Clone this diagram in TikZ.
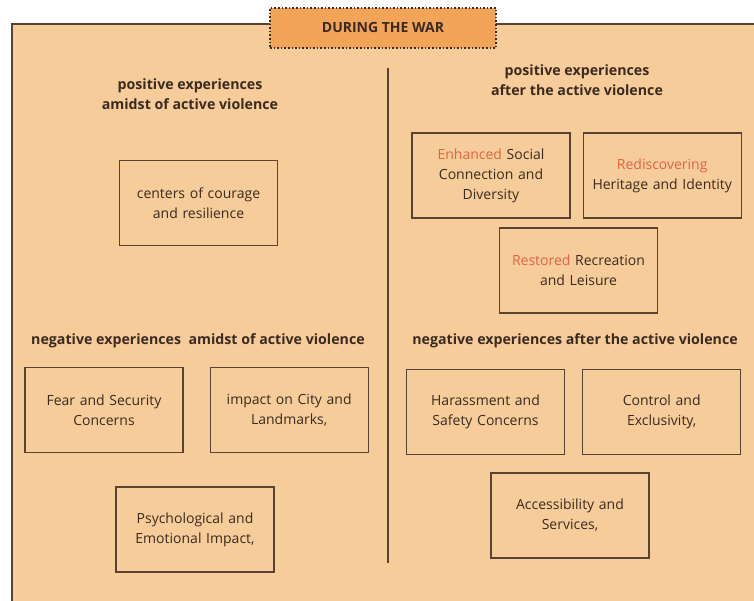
\documentclass[tikz,border=0pt]{standalone}
\usepackage{fontspec}
\setmainfont{Open Sans}
\usepackage{xcolor}
\usepackage{tikz}
\usetikzlibrary{positioning}
\definecolor{paper}{HTML}{F6CC9A}
\definecolor{titlefill}{HTML}{F2A458}
\definecolor{ink}{HTML}{3B2A20}
\definecolor{edge}{HTML}{5A4232}
\definecolor{accent}{HTML}{E0653F}
\tikzset{
    titlenode/.style = {draw=ink, dotted, line width=1.6pt, fill=titlefill, rectangle,
      minimum width=226pt, minimum height=40pt, inner sep=0pt,
      font=\fontsize{14}{16}\selectfont\bfseries, text=ink},
    headnode/.style = {draw=none, fill=none, rectangle, inner sep=0pt, align=center,
      font=\fontsize{14.2}{20.5}\selectfont\bfseries, text=ink},
    boxnode/.style = {draw=edge, line width=1.2pt, rectangle, minimum width=158pt, minimum height=85pt,
      text width=152pt, inner sep=0pt, align=center, node distance=26pt,
      font=\fontsize{14}{20}\selectfont, text=ink}
}
\newcommand{\hlword}[1]{\textcolor{accent}{#1}}

\begin{document}
\begin{tikzpicture}[x=1pt, y=-1pt]
\clip (0,0) rectangle (754,601);
\fill[white] (0,0) rectangle (754,601);
% outer frame
\draw[edge, line width=1.3pt, fill=paper] (12,24) rectangle (770,620);
\node[titlenode, name=war] at (383,28) {DURING THE WAR};
% divider
\coordinate (divtop) at (388,68);
\coordinate (divbot) at (388,563);
\draw[edge, line width=1.1pt] (divtop) -- (divbot);

% left half
\node[headnode, name=posamid] at (190,94) {positive experiences\\amidst of active violence};
\node[boxnode, name=courage] at (198.5,203) {centers of courage\\and resilience};
\node[headnode, name=negamid] at (198,341) {negative experiences\ \ amidst of active violence};
\node[boxnode, name=fear] at (104,410) {Fear and Security\\Concerns};
\node[boxnode, name=impact, right=of fear] {impact on City and\\Landmarks,};
\node[boxnode, name=psych] at (195,529.5) {Psychological and\\Emotional Impact,};

% right half
\node[headnode, name=posafter] at (577,80) {positive experiences\\after the active violence};
\node[boxnode, name=enhanced] at (491,175.5) {\hlword{Enhanced} Social\\Connection and\\Diversity};
\node[boxnode, name=heritage, right=12pt of enhanced] {\hlword{Rediscovering}\\Heritage and Identity};
\node[boxnode, name=leisure] at (578.5,270.5) {\hlword{Restored} Recreation\\and Leisure};
\node[headnode, name=negafter] at (575,341) {negative experiences after the active violence};
\node[boxnode, name=harass] at (485.5,412) {Harassment and\\Safety Concerns};
\node[boxnode, name=control, right=17pt of harass] {Control and\\Exclusivity,};
\node[boxnode, name=access] at (570,515.5) {Accessibility and\\Services,};
\end{tikzpicture}
\end{document}
